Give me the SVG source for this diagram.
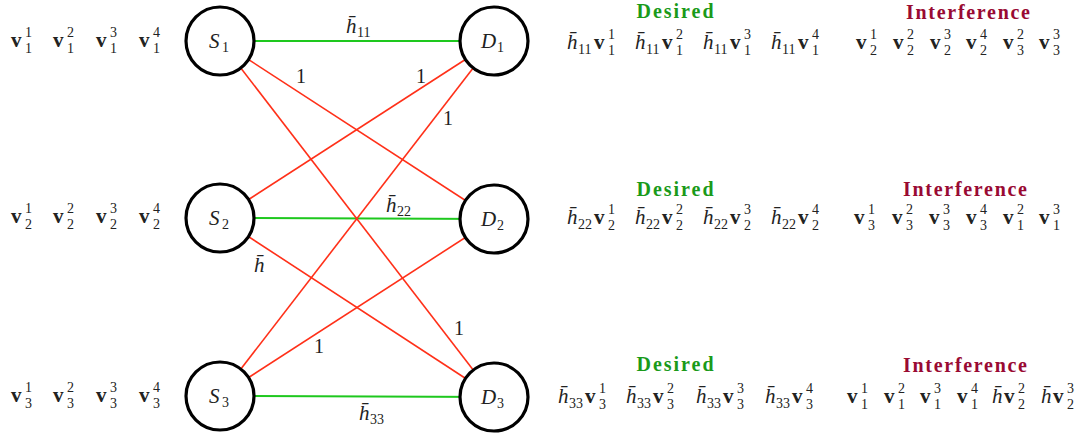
<svg xmlns="http://www.w3.org/2000/svg" width="1085" height="438" viewBox="0 0 1085 438">
<style>
text{font-family:"Liberation Serif","DejaVu Serif",serif;fill:#222}
.i{font-size:21px;font-style:italic}
.v{font-size:21px;font-weight:bold}
.sc{font-size:14px}
.one{font-size:20px}
.des{font-size:20px;font-weight:bold;fill:#1a9a1a}
.int{font-size:20px;font-weight:bold;fill:#990a33}
.node{fill:#fff;stroke:#000;stroke-width:3.2}
.g{stroke:#1ec81e;stroke-width:2}
.r{stroke:#ff3019;stroke-width:1.6}
</style>
<g id="connectors">
<line class="g" x1="220" y1="41" x2="494" y2="41"/>
<line class="g" x1="220" y1="218" x2="494" y2="219"/>
<line class="g" x1="220" y1="396" x2="494" y2="397"/>
<line class="r" x1="220" y1="41" x2="494" y2="219"/>
<line class="r" x1="220" y1="41" x2="494" y2="397"/>
<line class="r" x1="220" y1="218" x2="494" y2="41"/>
<line class="r" x1="220" y1="218" x2="494" y2="397"/>
<line class="r" x1="220" y1="396" x2="494" y2="41"/>
<line class="r" x1="220" y1="396" x2="494" y2="219"/>
</g>
<g id="edge-labels">
<text x="346" y="33"><tspan class="i">h&#x0304;</tspan><tspan class="sc" x="357" y="37">11</tspan></text>
<text class="one" x="296" y="83">1</text>
<text class="one" x="416" y="83">1</text>
<text class="one" x="443" y="125">1</text>
<text x="386" y="212"><tspan class="i">h&#x0304;</tspan><tspan class="sc" x="397" y="216">22</tspan></text>
<text class="i" x="254" y="272">h&#x0304;</text>
<text class="one" x="454" y="335">1</text>
<text class="one" x="314" y="353">1</text>
<text x="359" y="420"><tspan class="i">h&#x0304;</tspan><tspan class="sc" x="370" y="424">33</tspan></text>
</g>
<g id="S1"><circle class="node" cx="220" cy="41" r="34"/><text x="209" y="48"><tspan class="i">S</tspan><tspan class="sc" x="222" y="52">1</tspan></text></g>
<g id="S2"><circle class="node" cx="220" cy="218" r="34"/><text x="209" y="225"><tspan class="i">S</tspan><tspan class="sc" x="222" y="229">2</tspan></text></g>
<g id="S3"><circle class="node" cx="220" cy="396" r="34"/><text x="209" y="403"><tspan class="i">S</tspan><tspan class="sc" x="222" y="407">3</tspan></text></g>
<g id="D1"><circle class="node" cx="494" cy="41" r="34"/><text x="481" y="48"><tspan class="i">D</tspan><tspan class="sc" x="497" y="52">1</tspan></text></g>
<g id="D2"><circle class="node" cx="494" cy="219" r="34"/><text x="481" y="226"><tspan class="i">D</tspan><tspan class="sc" x="497" y="230">2</tspan></text></g>
<g id="D3"><circle class="node" cx="494" cy="397" r="34"/><text x="481" y="404"><tspan class="i">D</tspan><tspan class="sc" x="497" y="408">3</tspan></text></g>
<g id="source-vectors">
<text x="11" y="47"><tspan class="v">v</tspan><tspan class="sc" x="25" y="37">1</tspan><tspan class="sc" x="25" y="53">1</tspan></text>
<text x="53" y="47"><tspan class="v">v</tspan><tspan class="sc" x="67" y="37">2</tspan><tspan class="sc" x="67" y="53">1</tspan></text>
<text x="96" y="47"><tspan class="v">v</tspan><tspan class="sc" x="110" y="37">3</tspan><tspan class="sc" x="110" y="53">1</tspan></text>
<text x="139" y="47"><tspan class="v">v</tspan><tspan class="sc" x="153" y="37">4</tspan><tspan class="sc" x="153" y="53">1</tspan></text>
<text x="11" y="223"><tspan class="v">v</tspan><tspan class="sc" x="25" y="213">1</tspan><tspan class="sc" x="25" y="229">2</tspan></text>
<text x="53" y="223"><tspan class="v">v</tspan><tspan class="sc" x="67" y="213">2</tspan><tspan class="sc" x="67" y="229">2</tspan></text>
<text x="96" y="223"><tspan class="v">v</tspan><tspan class="sc" x="110" y="213">3</tspan><tspan class="sc" x="110" y="229">2</tspan></text>
<text x="139" y="223"><tspan class="v">v</tspan><tspan class="sc" x="153" y="213">4</tspan><tspan class="sc" x="153" y="229">2</tspan></text>
<text x="11" y="402"><tspan class="v">v</tspan><tspan class="sc" x="25" y="392">1</tspan><tspan class="sc" x="25" y="408">3</tspan></text>
<text x="53" y="402"><tspan class="v">v</tspan><tspan class="sc" x="67" y="392">2</tspan><tspan class="sc" x="67" y="408">3</tspan></text>
<text x="96" y="402"><tspan class="v">v</tspan><tspan class="sc" x="110" y="392">3</tspan><tspan class="sc" x="110" y="408">3</tspan></text>
<text x="139" y="402"><tspan class="v">v</tspan><tspan class="sc" x="153" y="392">4</tspan><tspan class="sc" x="153" y="408">3</tspan></text>
</g>
<g id="D1-signals">
<text class="des" x="675" y="18" text-anchor="middle" textLength="77">Desired</text>
<text class="int" x="968" y="19" text-anchor="middle" textLength="124">Interference</text>
<text x="567" y="49"><tspan class="i">h&#x0304;</tspan><tspan class="sc" x="578" y="54">11</tspan><tspan class="v" x="594" y="49">v</tspan><tspan class="sc" x="608" y="39">1</tspan><tspan class="sc" x="608" y="55">1</tspan></text>
<text x="635" y="49"><tspan class="i">h&#x0304;</tspan><tspan class="sc" x="646" y="54">11</tspan><tspan class="v" x="662" y="49">v</tspan><tspan class="sc" x="676" y="39">2</tspan><tspan class="sc" x="676" y="55">1</tspan></text>
<text x="703" y="49"><tspan class="i">h&#x0304;</tspan><tspan class="sc" x="714" y="54">11</tspan><tspan class="v" x="730" y="49">v</tspan><tspan class="sc" x="744" y="39">3</tspan><tspan class="sc" x="744" y="55">1</tspan></text>
<text x="771" y="49"><tspan class="i">h&#x0304;</tspan><tspan class="sc" x="782" y="54">11</tspan><tspan class="v" x="798" y="49">v</tspan><tspan class="sc" x="812" y="39">4</tspan><tspan class="sc" x="812" y="55">1</tspan></text>
<text x="856" y="49"><tspan class="v">v</tspan><tspan class="sc" x="870" y="39">1</tspan><tspan class="sc" x="870" y="55">2</tspan></text>
<text x="893" y="49"><tspan class="v">v</tspan><tspan class="sc" x="907" y="39">2</tspan><tspan class="sc" x="907" y="55">2</tspan></text>
<text x="930" y="49"><tspan class="v">v</tspan><tspan class="sc" x="944" y="39">3</tspan><tspan class="sc" x="944" y="55">2</tspan></text>
<text x="966" y="49"><tspan class="v">v</tspan><tspan class="sc" x="980" y="39">4</tspan><tspan class="sc" x="980" y="55">2</tspan></text>
<text x="1003" y="49"><tspan class="v">v</tspan><tspan class="sc" x="1017" y="39">2</tspan><tspan class="sc" x="1017" y="55">3</tspan></text>
<text x="1039" y="49"><tspan class="v">v</tspan><tspan class="sc" x="1053" y="39">3</tspan><tspan class="sc" x="1053" y="55">3</tspan></text>
</g>
<g id="D2-signals">
<text class="des" x="675" y="196" text-anchor="middle" textLength="77">Desired</text>
<text class="int" x="965" y="196" text-anchor="middle" textLength="124">Interference</text>
<text x="567" y="224"><tspan class="i">h&#x0304;</tspan><tspan class="sc" x="578" y="229">22</tspan><tspan class="v" x="594" y="224">v</tspan><tspan class="sc" x="608" y="214">1</tspan><tspan class="sc" x="608" y="230">2</tspan></text>
<text x="635" y="224"><tspan class="i">h&#x0304;</tspan><tspan class="sc" x="646" y="229">22</tspan><tspan class="v" x="662" y="224">v</tspan><tspan class="sc" x="676" y="214">2</tspan><tspan class="sc" x="676" y="230">2</tspan></text>
<text x="703" y="224"><tspan class="i">h&#x0304;</tspan><tspan class="sc" x="714" y="229">22</tspan><tspan class="v" x="730" y="224">v</tspan><tspan class="sc" x="744" y="214">3</tspan><tspan class="sc" x="744" y="230">2</tspan></text>
<text x="771" y="224"><tspan class="i">h&#x0304;</tspan><tspan class="sc" x="782" y="229">22</tspan><tspan class="v" x="798" y="224">v</tspan><tspan class="sc" x="812" y="214">4</tspan><tspan class="sc" x="812" y="230">2</tspan></text>
<text x="854" y="224"><tspan class="v">v</tspan><tspan class="sc" x="868" y="214">1</tspan><tspan class="sc" x="868" y="230">3</tspan></text>
<text x="892" y="224"><tspan class="v">v</tspan><tspan class="sc" x="906" y="214">2</tspan><tspan class="sc" x="906" y="230">3</tspan></text>
<text x="929" y="224"><tspan class="v">v</tspan><tspan class="sc" x="943" y="214">3</tspan><tspan class="sc" x="943" y="230">3</tspan></text>
<text x="966" y="224"><tspan class="v">v</tspan><tspan class="sc" x="980" y="214">4</tspan><tspan class="sc" x="980" y="230">3</tspan></text>
<text x="1003" y="224"><tspan class="v">v</tspan><tspan class="sc" x="1017" y="214">2</tspan><tspan class="sc" x="1017" y="230">1</tspan></text>
<text x="1039" y="224"><tspan class="v">v</tspan><tspan class="sc" x="1053" y="214">3</tspan><tspan class="sc" x="1053" y="230">1</tspan></text>
</g>
<g id="D3-signals">
<text class="des" x="675" y="371" text-anchor="middle" textLength="77">Desired</text>
<text class="int" x="965" y="372" text-anchor="middle" textLength="124">Interference</text>
<text x="558" y="403"><tspan class="i">h&#x0304;</tspan><tspan class="sc" x="569" y="408">33</tspan><tspan class="v" x="585" y="403">v</tspan><tspan class="sc" x="599" y="393">1</tspan><tspan class="sc" x="599" y="409">3</tspan></text>
<text x="626" y="403"><tspan class="i">h&#x0304;</tspan><tspan class="sc" x="637" y="408">33</tspan><tspan class="v" x="653" y="403">v</tspan><tspan class="sc" x="667" y="393">2</tspan><tspan class="sc" x="667" y="409">3</tspan></text>
<text x="696" y="403"><tspan class="i">h&#x0304;</tspan><tspan class="sc" x="707" y="408">33</tspan><tspan class="v" x="723" y="403">v</tspan><tspan class="sc" x="737" y="393">3</tspan><tspan class="sc" x="737" y="409">3</tspan></text>
<text x="765" y="403"><tspan class="i">h&#x0304;</tspan><tspan class="sc" x="776" y="408">33</tspan><tspan class="v" x="792" y="403">v</tspan><tspan class="sc" x="806" y="393">4</tspan><tspan class="sc" x="806" y="409">3</tspan></text>
<text x="847" y="403"><tspan class="v">v</tspan><tspan class="sc" x="861" y="393">1</tspan><tspan class="sc" x="861" y="409">1</tspan></text>
<text x="884" y="403"><tspan class="v">v</tspan><tspan class="sc" x="898" y="393">2</tspan><tspan class="sc" x="898" y="409">1</tspan></text>
<text x="920" y="403"><tspan class="v">v</tspan><tspan class="sc" x="934" y="393">3</tspan><tspan class="sc" x="934" y="409">1</tspan></text>
<text x="957" y="403"><tspan class="v">v</tspan><tspan class="sc" x="971" y="393">4</tspan><tspan class="sc" x="971" y="409">1</tspan></text>
<text x="992" y="403"><tspan class="i">h&#x0304;</tspan><tspan class="v" x="1004" y="403">v</tspan><tspan class="sc" x="1018" y="393">2</tspan><tspan class="sc" x="1018" y="409">2</tspan></text>
<text x="1041" y="403"><tspan class="i">h&#x0304;</tspan><tspan class="v" x="1053" y="403">v</tspan><tspan class="sc" x="1067" y="393">3</tspan><tspan class="sc" x="1067" y="409">2</tspan></text>
</g>
</svg>
